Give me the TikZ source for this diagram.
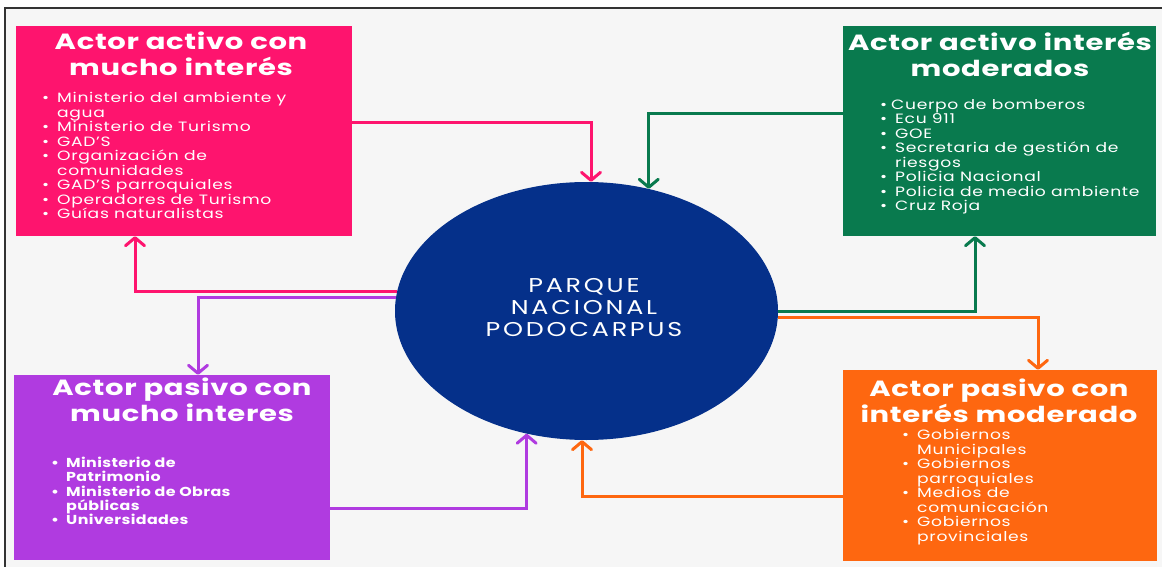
\documentclass[tikz,border=0pt]{standalone}
\usepackage{fontspec}
\setmainfont{Poppins}
\usetikzlibrary{shapes.geometric,arrows.meta}
\definecolor{cpink}{HTML}{FE146E}
\definecolor{cgreen}{HTML}{097A4E}
\definecolor{cpurple}{HTML}{B03BE0}
\definecolor{corange}{HTML}{FE6710}
\definecolor{cblue}{HTML}{05308A}
\definecolor{cbg}{HTML}{F6F6F6}
\definecolor{cframe}{HTML}{333333}
\newlength{\bw}
\setlength{\bw}{15pt}
\newcommand{\bul}{\makebox[\bw][l]{\textbullet}}
\newcommand{\cont}{\hspace*{\bw}}
\tikzset{
  box/.style={rectangle, draw=none, inner sep=0pt},
  ttl/.style={anchor=north, align=center, inner sep=0pt, text=white,
    font=\fontsize{22}{26}\selectfont\bfseries\addfontfeatures{LetterSpace=3,FakeStretch=1.32}},
  lst/.style={anchor=north west, align=left, inner sep=0pt, text=white,
    font=\fontsize{13.5}{14.5}\selectfont\addfontfeatures{LetterSpace=5,FakeStretch=1.27}},
  conn/.style={line width=3pt, -{Straight Barb[length=8pt,width=19pt,round]}}
}
\begin{document}
\begin{tikzpicture}[x=1pt,y=-1pt]
\useasboundingbox (0,0) rectangle (1162,567);
\fill[white] (0,0) rectangle (1162,567);
\fill[cbg] (5,8) rectangle (1162,567);
\draw[cframe, line width=1.3pt] (5,567) -- (5,8) -- (1162,8);

% boxes
\node[box, fill=cpink, minimum width=336pt, minimum height=210pt] (pink) at (184,131) {};
\node[box, fill=cgreen, minimum width=313pt, minimum height=210pt] (green) at (999.5,131) {};
\node[box, fill=cpurple, minimum width=316pt, minimum height=185pt] (purple) at (172,467.5) {};
\node[box, fill=corange, minimum width=314pt, minimum height=191pt] (orange) at (1000,465.5) {};
\node[ellipse, fill=cblue, minimum width=383pt, minimum height=258pt, inner sep=0pt] (ell) at (586.5,311) {};

% ellipse text
\node[align=center, text=white, inner sep=0pt, font=\fontsize{20}{22}\selectfont\addfontfeatures{LetterSpace=14,FakeStretch=1.27}] (park) at (584,308) {PARQUE\\NACIONAL\\PODOCARPUS};

% titles
\node[ttl] (tpink) at (181,32) {Actor activo con\\mucho interés};
\node[ttl] (tgreen) at (1000,32) {Actor activo interés\\moderados};
\node[ttl] (tpurple) at (182,378) {Actor pasivo con\\mucho interes};
\node[ttl, font=\fontsize{22}{23}\selectfont\bfseries\addfontfeatures{LetterSpace=3,FakeStretch=1.32}] (torange) at (999,379) {Actor pasivo con\\interés moderado};

% lists
\node[lst] (lpink) at (42,92.5) {\bul Ministerio del ambiente y\\ \cont agua\\ \bul Ministerio de Turismo\\ \bul GAD'S\\ \bul Organización de\\ \cont comunidades\\ \bul GAD'S parroquiales\\ \bul Operadores de Turismo\\ \bul Guías naturalistas};
\node[lst] (lgreen) at (880,99) {\setlength{\bw}{11pt}\bul Cuerpo de bomberos\\ \bul Ecu 911\\ \bul GOE\\ \bul Secretaria de gestión de\\ \cont riesgos\\ \bul Policia Nacional\\ \bul Policia de medio ambiente\\ \bul Cruz Roja};
\node[lst, font=\fontsize{13}{14.3}\selectfont\bfseries\addfontfeatures{LetterSpace=3,FakeStretch=1.22}] (lpurple) at (51,457) {\bul Ministerio de\\ \cont Patrimonio\\ \bul Ministerio de Obras\\ \cont públicas\\ \bul Universidades};
\node[lst] (lorange) at (902,429.5) {\bul Gobiernos\\ \cont Municipales\\ \bul Gobiernos\\ \cont parroquiales\\ \bul Medios de\\ \cont comunicación\\ \bul Gobiernos\\ \cont provinciales};

% connectors
\draw[conn, cpink] ([yshift=8pt]pink.east) -| (ell.88.4);
\draw[conn, cgreen] ([yshift=17pt]green.west) -| (ell.63.7);
\draw[conn, cpink] (ell.174.6) -| ([xshift=-49pt]pink.south);
\draw[conn, cpurple] (ell.176.1) -| ([xshift=26pt]purple.north);
\draw[conn, cpurple] ([yshift=-40.5pt]purple.east) -| (ell.244.1);
\draw[conn, corange] ([yshift=-30.5pt]orange.west) -| (ell.268.4);
\draw[conn, cgreen] (ell.0.6) -| ([xshift=-24.5pt]green.south);
\draw[conn, corange] (ell.358.2) -| ([xshift=38pt]orange.north);
\end{tikzpicture}
\end{document}
